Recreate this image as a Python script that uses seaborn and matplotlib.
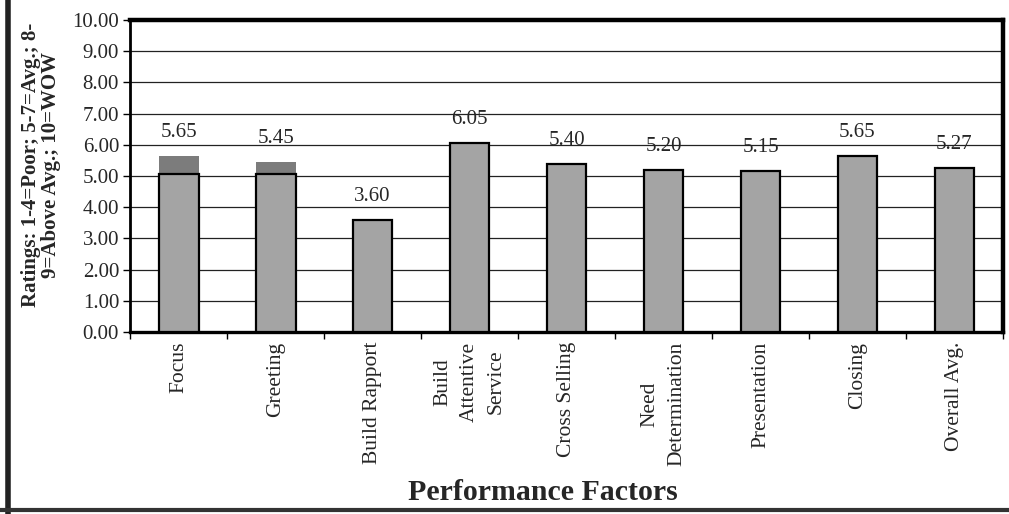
import matplotlib
matplotlib.use("Agg")
import matplotlib.pyplot as plt
import seaborn as sns
import pandas as pd
import numpy as np
from matplotlib.lines import Line2D

categories = ["Focus", "Greeting", "Build Rapport", "Build\nAttentive\nService",
              "Cross Selling", "Need\nDetermination", "Presentation", "Closing",
              "Overall Avg."]
values = [5.65, 5.45, 3.60, 6.05, 5.40, 5.20, 5.15, 5.65, 5.27]
# height where the light body ends (the first two bars show a darker cap above it)
body_top = [5.05, 5.05, 3.60, 6.05, 5.40, 5.20, 5.15, 5.65, 5.27]
y_ticks = [0, 1, 2, 3, 4, 5, 6, 7, 8, 9, 10]

df = pd.DataFrame({"factor": categories, "rating": values, "body": body_top})

sns.set_theme(style="white")
plt.rcParams["font.family"] = ["Liberation Serif", "DejaVu Serif"]

fig = plt.figure(figsize=(10.09, 5.14), dpi=100)
ax = fig.add_axes([0.129, 0.354, 0.865, 0.607])

# darker caps (full value), covered below by the light bodies
sns.barplot(data=df, x="factor", y="rating", ax=ax, color="#7c7c7c",
            saturation=1, width=0.41, linewidth=0, zorder=2)
sns.barplot(data=df, x="factor", y="body", ax=ax, color="#a4a4a4",
            saturation=1, width=0.41, edgecolor="black", linewidth=1.6, zorder=3)

ax.set_ylim(0, 10)
ax.set_xlim(-0.5, len(categories) - 0.5)
ax.set_yticks(y_ticks)
ax.set_yticklabels([f"{v:.2f}" for v in y_ticks], fontsize=15)
ax.yaxis.grid(True, color="#222222", linewidth=0.9, zorder=0)
ax.tick_params(axis="y", length=5, width=1, color="black", direction="out", left=True, pad=3)

ax.set_xticks(range(len(categories)))
ax.set_xticklabels(categories, rotation=90, fontsize=15.5, va="top", ha="center",
                   multialignment="center", linespacing=1.55)
ax.tick_params(axis="x", length=0, pad=7)
ax.set_xticks(np.arange(-0.5, len(categories), 1), minor=True)
ax.tick_params(axis="x", which="minor", length=5, width=1, color="black", direction="out", bottom=True)

for i, v in enumerate(values):
    ax.text(i, v + 0.45, f"{v:.2f}", ha="center", va="bottom", fontsize=15, zorder=4)

ax.set_xlabel("Performance Factors", fontsize=21.5, fontweight="bold")
ax.xaxis.set_label_coords(0.473, -0.47)
ax.set_ylabel("Ratings: 1-4=Poor; 5-7=Avg.; 8-\n9=Above Avg.; 10=WOW", fontsize=15,
              fontweight="bold", linespacing=1.0)
ax.yaxis.set_label_coords(-0.079, 0.535)

for side, lw in [("top", 3.2), ("right", 3.2), ("left", 2.0), ("bottom", 2.4)]:
    ax.spines[side].set_visible(True)
    ax.spines[side].set_color("black")
    ax.spines[side].set_linewidth(lw)

fig.add_artist(Line2D([0.0075, 0.0075], [0.0, 1.0], transform=fig.transFigure, color="#222222", linewidth=4))
fig.add_artist(Line2D([0.0, 1.0], [0.008, 0.008], transform=fig.transFigure, color="#333333", linewidth=3))

fig.savefig("out.png", dpi=100)
